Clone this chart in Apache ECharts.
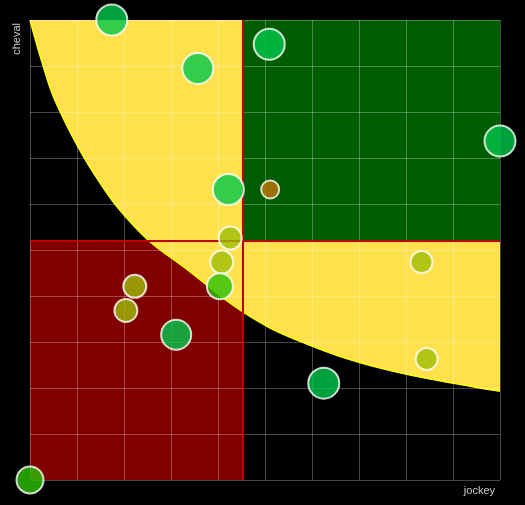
<!DOCTYPE html>
<html>
<head>
<meta charset="utf-8">
<script src="https://cdn.jsdelivr.net/npm/echarts@6/dist/echarts.min.js"></script>
<style>
  html, body { margin: 0; padding: 0; background: #000; }
  #chart { width: 525px; height: 505px; }
</style>
</head>
<body>
<div id="chart"></div>
<script>
// points: jockey (%), cheval (0-19), taille de bulle, niveau
const xJockey = [17.4, 50.9, 35.7, 100, 42.2, 51.1, 42.6, 40.8, 83.3, 22.3, 40.4, 20.4, 31.1, 84.4, 62.5, 0];
const yCheval = [19, 18, 17, 14, 12, 12, 10, 9, 9, 8, 8, 7, 6, 5, 4, 0];
const taille = [31, 31, 31, 31, 31, 18, 23, 23, 22, 23, 26, 23, 30, 22, 31, 27];
const niveau = ['A', 'A', 'A', 'A', 'A', 'D', 'C', 'C', 'C', 'C', 'B', 'C', 'A', 'C', 'A', 'B'];

// courbe limite (zone jaune au-dessus)
const courbeX = [0, 2.8, 5.3, 10.6, 14.9, 19.1, 25.1, 33, 45.3, 56.8, 74.5, 95.7, 100];
const courbeY = [19, 17.1, 15.69, 13.62, 12.27, 11.15, 9.92, 8.76, 6.94, 5.78, 4.62, 3.8, 3.67];

const couleurs = { A: '#00c84b', B: '#2bc206', C: '#9fbd06', D: '#c07600' };

const moyX = xJockey.reduce((a, b) => a + b, 0) / xJockey.length;
const moyY = yCheval.reduce((a, b) => a + b, 0) / yCheval.length;

const chart = echarts.init(document.getElementById('chart'));

const gridLine = { show: true, lineStyle: { color: 'rgba(255,255,255,0.28)', width: 1 } };

chart.setOption({
  backgroundColor: '#000',
  animation: false,
  grid: { left: 30, right: 25, top: 20, bottom: 25 },
  xAxis: {
    type: 'value',
    min: 0,
    max: 100,
    interval: 10,
    z: 4,
    name: 'jockey',
    nameLocation: 'end',
    nameGap: 0,
    nameTextStyle: { color: '#ccc', fontSize: 11, align: 'right', verticalAlign: 'top', padding: [5, 5, 0, 0] },
    axisLine: { show: false },
    axisTick: { show: false },
    axisLabel: { show: false },
    splitLine: gridLine,
  },
  yAxis: {
    type: 'value',
    min: 0,
    max: 19,
    interval: 1.9,
    z: 4,
    name: 'cheval',
    nameLocation: 'end',
    nameRotate: 90,
    nameGap: -3,
    nameTextStyle: { color: '#ccc', fontSize: 11, align: 'right', verticalAlign: 'bottom', padding: [0, 0, 8, 0] },
    axisLine: { show: false },
    axisTick: { show: false },
    axisLabel: { show: false },
    splitLine: gridLine,
  },
  series: [
    {
      // quadrant rouge
      type: 'scatter',
      data: [],
      z: 1,
      markArea: {
        z: 1,
        silent: true,
        itemStyle: { color: '#800000', opacity: 1 },
        data: [[{ coord: [0, 0] }, { coord: [moyX, moyY] }]],
      },
    },
    {
      type: 'line',
      z: 2,
      smooth: 0.4,
      showSymbol: false,
      silent: true,
      data: courbeX.map((x, i) => [x, courbeY[i]]),
      lineStyle: { color: '#ffff00', width: 1.5 },
      areaStyle: { origin: 'end', color: '#ffe14d', opacity: 1 },
    },
    {
      // quadrant vert + lignes des moyennes
      type: 'scatter',
      data: [],
      z: 3,
      markArea: {
        z: 3,
        silent: true,
        itemStyle: { color: '#005c00', opacity: 1 },
        data: [[{ coord: [moyX, moyY] }, { coord: [100, 19] }]],
      },
      markLine: {
        z: 5,
        silent: true,
        symbol: 'none',
        label: { show: false },
        lineStyle: { color: '#c00000', width: 2, type: 'solid' },
        data: [{ xAxis: moyX }, { yAxis: moyY }],
      },
    },
    {
      type: 'scatter',
      z: 10,
      data: xJockey.map((x, i) => [x, yCheval[i], taille[i], niveau[i]]),
      symbolSize: (d) => d[2],
      itemStyle: {
        color: (p) => couleurs[p.data[3]],
        opacity: 0.8,
        borderColor: '#fff',
        borderWidth: 2,
      },
    },
  ],
});
</script>
</body>
</html>
